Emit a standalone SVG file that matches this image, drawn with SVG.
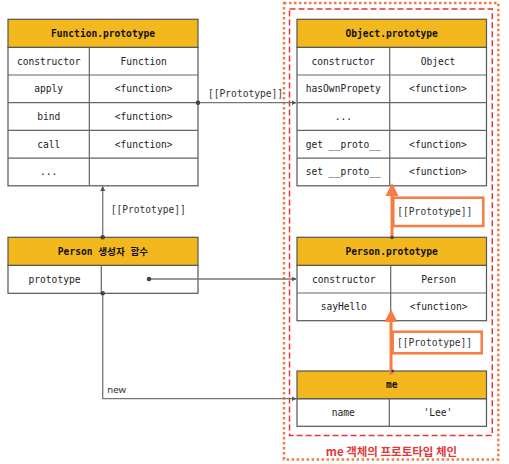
<svg xmlns="http://www.w3.org/2000/svg" width="509" height="464" viewBox="0 0 509 464">
<defs>
<style>
.hd{fill:#F2B81E;stroke:#555;stroke-width:1.2}
.cell{fill:#fff;stroke:#555;stroke-width:1.2}
.ln{stroke:#666;stroke-width:1.2;fill:none}
.t{font-family:"DejaVu Sans Mono","Liberation Mono","Noto Sans CJK KR",monospace;font-size:9.6px;fill:#222;text-anchor:middle}
.th{font-family:"DejaVu Sans Mono","Liberation Mono","Noto Sans CJK KR",monospace;font-size:9.6px;font-weight:bold;fill:#111;text-anchor:middle}
.lb{font-family:"DejaVu Sans Mono","Liberation Mono",monospace;font-size:9.6px;fill:#333}
.con{stroke:#777;stroke-width:1.3;fill:none}
.dot{fill:#444}
.orn{stroke:#F57C42;stroke-width:3;fill:none}
.obox{fill:#fff;stroke:#F57C42;stroke-width:2.5}
</style>
<marker id="ah" viewBox="0 0 10 10" refX="9" refY="5" markerWidth="5" markerHeight="5" orient="auto" markerUnits="userSpaceOnUse">
<path d="M0,0 L10,5 L0,10 z" fill="#555"/>
</marker>
</defs>
<rect width="509" height="464" fill="#fff"/>

<g id="chain-frame">
<rect x="284" y="3" width="214.3" height="456.5" fill="none" stroke="#F57C42" stroke-width="2.5" stroke-dasharray="2.5 2.5"/>
<rect x="289.5" y="9" width="202.8" height="426.5" fill="none" stroke="#E0393A" stroke-width="1.5" stroke-dasharray="6 3"/>
<text x="391.5" y="456" text-anchor="middle" font-family="'Noto Sans CJK KR','Noto Sans',sans-serif" font-size="11.5" font-weight="bold" fill="#E0393A">me 객체의 프로토타입 체인</text>
</g>

<g id="function-prototype">
<rect class="cell" x="8" y="47.3" width="190" height="138.5"/>
<rect class="hd" x="8" y="19.3" width="190" height="28"/>
<path class="ln" d="M8,75 H198 M8,102.7 H198 M8,130.4 H198 M8,158.1 H198 M89.3,47.3 V185.8"/>
<text class="th" x="103" y="36.8">Function.prototype</text>
<text class="t" x="48.7" y="64.6">constructor</text><text class="t" x="143.7" y="64.6">Function</text>
<text class="t" x="48.7" y="92.3">apply</text><text class="t" x="143.7" y="92.3">&lt;function&gt;</text>
<text class="t" x="48.7" y="120">bind</text><text class="t" x="143.7" y="120">&lt;function&gt;</text>
<text class="t" x="48.7" y="147.7">call</text><text class="t" x="143.7" y="147.7">&lt;function&gt;</text>
<text class="t" x="48.7" y="175.4">...</text>
</g>

<g id="object-prototype">
<rect class="cell" x="297" y="47.3" width="189.5" height="138.5"/>
<rect class="hd" x="297" y="19.3" width="189.5" height="28"/>
<path class="ln" d="M297,75 H486.5 M297,102.7 H486.5 M297,130.4 H486.5 M297,158.1 H486.5 M389.7,47.3 V185.8"/>
<text class="th" x="391.7" y="36.8">Object.prototype</text>
<text class="t" x="343.3" y="64.6">constructor</text><text class="t" x="438" y="64.6">Object</text>
<text class="t" x="343.3" y="92.3">hasOwnPropety</text><text class="t" x="438" y="92.3">&lt;function&gt;</text>
<text class="t" x="343.3" y="120">...</text>
<text class="t" x="343.3" y="147.7">get __proto__</text><text class="t" x="438" y="147.7">&lt;function&gt;</text>
<text class="t" x="343.3" y="175.4">set __proto__</text><text class="t" x="438" y="175.4">&lt;function&gt;</text>
</g>

<g id="person-constructor">
<rect class="cell" x="8" y="265.3" width="190" height="28"/>
<rect class="hd" x="8" y="237.3" width="190" height="28"/>
<path class="ln" d="M101.3,265.3 V293.3"/>
<text class="th" x="103" y="254.8">Person 생성자 함수</text>
<text class="t" x="54.5" y="282.6">prototype</text>
</g>

<g id="person-prototype">
<rect class="cell" x="297" y="265.3" width="189.5" height="55.4"/>
<rect class="hd" x="297" y="237.3" width="189.5" height="28"/>
<path class="ln" d="M297,293 H486.5 M390.7,265.3 V320.7"/>
<text class="th" x="391.7" y="254.8">Person.prototype</text>
<text class="t" x="343.8" y="282.6">constructor</text><text class="t" x="438.6" y="282.6">Person</text>
<text class="t" x="343.8" y="310.3">sayHello</text><text class="t" x="438.6" y="310.3">&lt;function&gt;</text>
</g>

<g id="me">
<rect class="cell" x="297" y="398.7" width="189.5" height="27.6"/>
<rect class="hd" x="297" y="371" width="189.5" height="27.7"/>
<path class="ln" d="M389.3,398.7 V426.3"/>
<text class="th" x="391.7" y="388.3">me</text>
<text class="t" x="343.2" y="416">name</text><text class="t" x="437.9" y="416">'Lee'</text>
</g>

<g id="connectors">
<path class="con" d="M198,102.7 H296" marker-end="url(#ah)"/>
<circle class="dot" cx="198" cy="102.7" r="2.3"/>
<text class="lb" x="208" y="97">[[Prototype]]</text>

<path class="con" d="M102.7,237.3 V186.5" marker-end="url(#ah)"/>
<circle class="dot" cx="102.7" cy="237.3" r="2.3"/>
<text class="lb" x="110.7" y="212.7">[[Prototype]]</text>

<path class="con" d="M149,279 H296" stroke="#555" marker-end="url(#ah)"/>
<circle class="dot" cx="149" cy="279" r="2.3"/>

<path class="con" d="M102.7,293.3 V398.7 H296" stroke="#999" marker-end="url(#ah)"/>
<circle class="dot" cx="102.7" cy="293.3" r="2.3"/>
<text x="107.3" y="392.7" font-family="'Noto Sans','Liberation Sans',sans-serif" font-size="9.6" fill="#333">new</text>

<path class="orn" d="M392,237.5 V195"/>
<path d="M392,183 L398.5,196 L385.5,196 z" fill="#F57C42"/>
<circle class="dot" cx="392" cy="237.5" r="1.8"/>
<rect class="obox" x="393.3" y="197.7" width="90" height="28.3"/>
<text class="lb" x="397.3" y="215">[[Prototype]]</text>

<path class="orn" d="M391,375 V320"/>
<path d="M391,309.3 L397.5,322 L384.5,322 z" fill="#F57C42"/>
<circle class="dot" cx="392.7" cy="371" r="1.5"/>
<rect class="obox" x="392.7" y="331.7" width="89" height="21.6"/>
<text class="lb" x="397" y="346">[[Prototype]]</text>
</g>
</svg>
